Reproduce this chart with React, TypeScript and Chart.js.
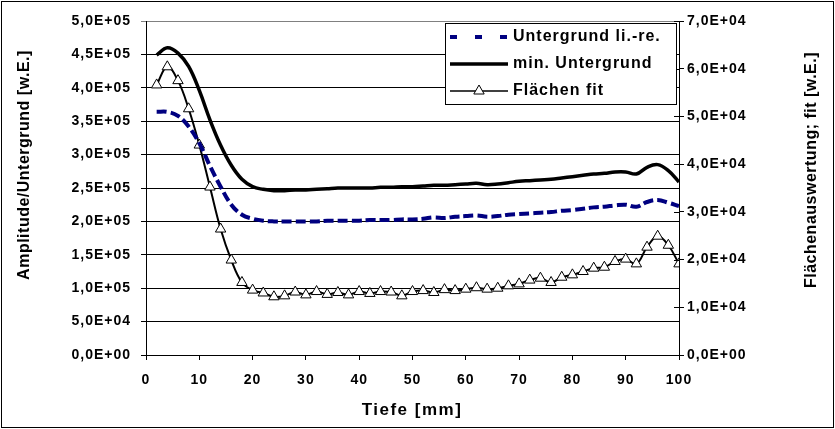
import React, { useEffect, useRef } from 'react';
import { Chart, registerables } from 'chart.js';

Chart.register(...registerables);

const depthMm = [2, 4, 6, 8, 10, 12, 14, 16, 18, 20, 22, 24, 26, 28, 30, 32, 34, 36, 38, 40, 42, 44, 46, 48, 50, 52, 54, 56, 58, 60, 62, 64, 66, 68, 70, 72, 74, 76, 78, 80, 82, 84, 86, 88, 90, 92, 94, 96, 98, 100];

const untergrundLiRe = [364000, 364000, 358000, 342000, 317000, 283000, 252000, 225000, 210000, 204000, 201000, 200000, 200000, 200000, 200000, 200000, 201000, 201000, 201000, 201000, 202000, 202000, 202000, 203000, 203000, 204000, 206000, 205000, 207000, 208000, 209000, 207000, 208000, 210000, 211000, 212000, 213000, 214000, 216000, 217000, 219000, 221000, 222000, 224000, 225000, 222000, 229000, 232000, 228000, 223000];

const minUntergrund = [449000, 460000, 452000, 432000, 396000, 352000, 314000, 284000, 263000, 252000, 248000, 246000, 246000, 247000, 247000, 248000, 249000, 250000, 250000, 250000, 250000, 251000, 251000, 252000, 252000, 253000, 254000, 254000, 255000, 256000, 257000, 255000, 256000, 258000, 260000, 261000, 262000, 263000, 265000, 267000, 269000, 271000, 272000, 274000, 274000, 271000, 281000, 285000, 276000, 259000];

const flaechenFit = [56600, 60400, 57500, 51600, 44000, 35200, 26400, 19900, 15200, 13600, 13000, 12200, 12400, 13200, 12600, 13300, 12700, 13100, 12600, 13300, 12900, 13300, 13200, 12400, 13300, 13500, 13100, 13700, 13500, 13800, 14100, 13800, 14000, 14500, 14900, 15700, 16100, 15200, 16300, 16800, 17500, 18200, 18400, 19600, 20100, 19100, 22600, 24900, 23000, 19100];

const seriesNames = ['Untergrund li.-re.', 'min. Untergrund', 'Flächen fit'];
const xTitle = 'Tiefe [mm]';
const yLeftTitle = 'Amplitude/Untergrund [w.E.]';
const yRightTitle = 'Flächenauswertung; fit [w.E.]';

const FONT_FAMILY = '"Liberation Sans", Arial, sans-serif';
const LS = '1px';

function fmtExp(v: number): string {
  const [m, e] = v.toExponential(1).split('e');
  const sign = e[0] === '-' ? '-' : '+';
  const digits = e.replace(/[+-]/, '').padStart(2, '0');
  return m.replace('.', ',') + 'E' + sign + digits;
}

function drawText(c: any, text: string, x: number, y: number, size: number, ls: string, rot: number) {
  c.save();
  c.translate(x, y);
  c.rotate(rot);
  c.letterSpacing = ls;
  c.font = 'bold ' + size + 'px ' + FONT_FAMILY;
  c.fillStyle = '#000';
  c.textAlign = 'center';
  c.textBaseline = 'middle';
  c.fillText(text, 0, 0);
  c.restore();
}

const decorPlugin = {
  id: 'decor',
  beforeLayout(chart: any) {
    chart.ctx.letterSpacing = LS;
  },
  beforeDraw(chart: any) {
    const c = chart.ctx;
    c.save();
    c.fillStyle = '#fff';
    c.fillRect(0, 0, chart.width, chart.height);
    c.restore();
    c.letterSpacing = LS;
  },
  afterDatasetsDraw(chart: any) {
    const c = chart.ctx;
    const s = chart.scales.y2;
    c.save();
    c.strokeStyle = '#000';
    c.lineWidth = 1;
    s.ticks.forEach((t: any) => {
      const y = Math.round(s.getPixelForValue(t.value)) + 0.5;
      c.beginPath();
      c.moveTo(s.left - 5, y);
      c.lineTo(s.left, y);
      c.stroke();
    });

    // legend
    const lx = 445.5, ly = 23.5, lw = 231, lh = 81;
    c.fillStyle = '#fff';
    c.fillRect(lx, ly, lw, lh);
    c.strokeStyle = '#000';
    c.lineWidth = 1;
    c.strokeRect(lx, ly, lw, lh);
    const rows = [37, 64, 91];
    const x0 = 450, x1 = 508;
    c.save();
    c.strokeStyle = '#000080';
    c.lineWidth = 4;
    c.setLineDash([7, 18]);
    c.beginPath();
    c.moveTo(x0, rows[0]);
    c.lineTo(x1, rows[0]);
    c.stroke();
    c.restore();
    c.strokeStyle = '#000';
    c.lineWidth = 3.5;
    c.beginPath();
    c.moveTo(x0, rows[1]);
    c.lineTo(x1, rows[1]);
    c.stroke();
    c.lineWidth = 1.5;
    c.beginPath();
    c.moveTo(x0, rows[2]);
    c.lineTo(x1, rows[2]);
    c.stroke();
    const cx = (x0 + x1) / 2, cy = rows[2], r = 6;
    c.beginPath();
    c.moveTo(cx, cy - r);
    c.lineTo(cx + r * Math.sin(2 * Math.PI / 3), cy - r * Math.cos(2 * Math.PI / 3));
    c.lineTo(cx + r * Math.sin(4 * Math.PI / 3), cy - r * Math.cos(4 * Math.PI / 3));
    c.closePath();
    c.fillStyle = '#fff';
    c.fill();
    c.lineWidth = 1;
    c.stroke();
    c.fillStyle = '#000';
    c.letterSpacing = '1px';
    c.font = 'bold 16px ' + FONT_FAMILY;
    c.textBaseline = 'middle';
    c.textAlign = 'left';
    seriesNames.forEach((n, i) => c.fillText(n, 513, rows[i]));
    c.restore();
  },
  afterDraw(chart: any) {
    const c = chart.ctx;
    c.save();
    c.strokeStyle = '#000';
    c.lineWidth = 1;
    c.strokeRect(1.5, 1.5, chart.width - 3, chart.height - 3);
    c.restore();
    drawText(c, yLeftTitle, 25, 165, 16, '0.5px', -Math.PI / 2);
    drawText(c, yRightTitle, 812, 170, 16, '0.5px', -Math.PI / 2);
    drawText(c, xTitle, 412, 410, 17, '1.5px', 0);
  },
};

export default function App() {
  const ref = useRef<HTMLCanvasElement | null>(null);

  useEffect(() => {
    document.body.style.margin = '0';
    const canvas = ref.current;
    if (!canvas) return;
    const font = { family: FONT_FAMILY, size: 14, weight: 'bold' as const };
    const chart = new Chart(canvas, {
      type: 'line',
      data: {
        datasets: [
          {
            label: seriesNames[0],
            data: depthMm.map((x, i) => ({ x, y: untergrundLiRe[i] })),
            yAxisID: 'y',
            borderColor: '#000080',
            borderWidth: 4,
            borderDash: [10, 4],
            pointRadius: 0,
            tension: 0.4,
            fill: false,
          },
          {
            label: seriesNames[1],
            data: depthMm.map((x, i) => ({ x, y: minUntergrund[i] })),
            yAxisID: 'y',
            borderColor: '#000',
            borderWidth: 3.5,
            pointRadius: 0,
            tension: 0.4,
            fill: false,
          },
          {
            label: seriesNames[2],
            data: depthMm.map((x, i) => ({ x, y: flaechenFit[i] })),
            yAxisID: 'y2',
            borderColor: '#000',
            borderWidth: 2,
            pointStyle: 'triangle',
            pointRadius: 6,
            pointBackgroundColor: '#fff',
            pointBorderColor: '#000',
            pointBorderWidth: 1,
            tension: 0.4,
            fill: false,
          },
        ],
      },
      options: {
        animation: false,
        responsive: false,
        maintainAspectRatio: false,
        layout: { padding: { top: 21, left: 0, right: 0, bottom: 0 } },
        plugins: { legend: { display: false }, tooltip: { enabled: false }, title: { display: false } },
        scales: {
          x: {
            type: 'linear',
            min: 0,
            max: 100,
            ticks: { stepSize: 10, color: '#000', font, padding: 12, maxRotation: 0 },
            grid: { drawOnChartArea: false, drawTicks: true, tickLength: 5, color: '#000' },
            border: { color: '#000', width: 1 },
            title: { display: false },
            afterFit: (s: any) => { s.height = 429 - 355; },
          },
          y: {
            type: 'linear',
            position: 'left',
            min: 0,
            max: 500000,
            ticks: { stepSize: 50000, color: '#000', font, padding: 10, callback: (v: any) => fmtExp(Number(v)) },
            grid: {
              color: (ctx: any) => (ctx.tick && ctx.tick.value === 500000 ? '#808080' : '#000'),
              tickLength: 5,
              lineWidth: 1,
            },
            border: { color: '#000', width: 1 },
            title: { display: false },
            afterFit: (s: any) => { s.width = 146; },
          },
          y2: {
            type: 'linear',
            position: 'right',
            min: 0,
            max: 70000,
            ticks: { stepSize: 10000, color: '#000', font, padding: 3, callback: (v: any) => fmtExp(Number(v)) },
            grid: { drawOnChartArea: false, tickLength: 5, color: '#000' },
            border: { color: '#000', width: 1 },
            title: { display: false },
            afterFit: (s: any) => { s.width = 835 - 679; },
          },
        },
      },
      plugins: [decorPlugin],
    } as any);
    return () => chart.destroy();
  }, []);

  return <canvas ref={ref} width={835} height={429} style={{ display: 'block', width: 835, height: 429 }} />;
}
